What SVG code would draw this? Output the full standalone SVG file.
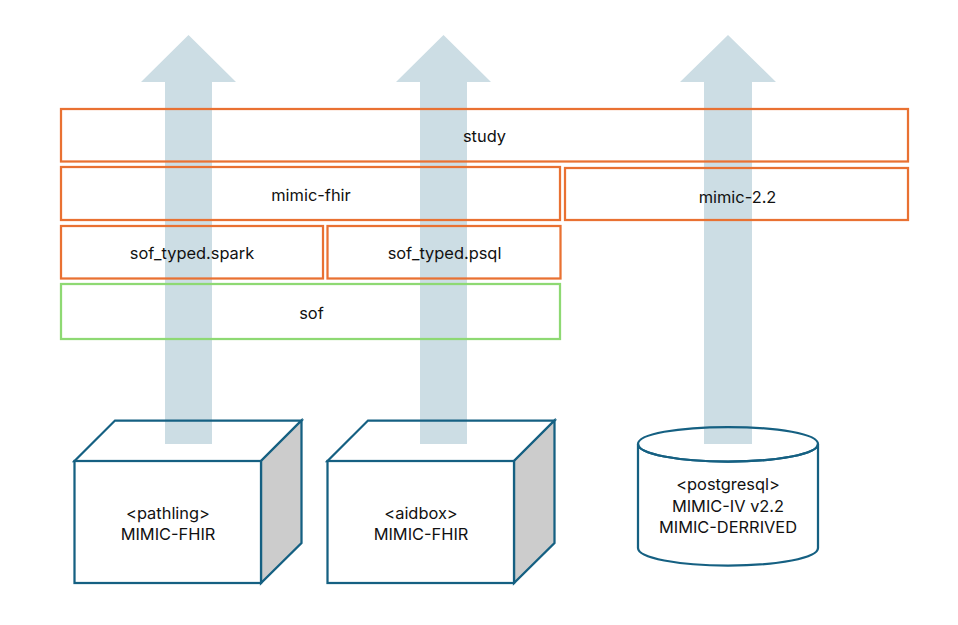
<svg xmlns="http://www.w3.org/2000/svg" width="958" height="625" viewBox="0 0 958 625">
<style>
text{font-family:"Inter","Liberation Sans",sans-serif;font-size:16.400px;fill:#111;text-anchor:middle}
.arrow{fill:#ccdde4}
.o{fill:none;stroke:#e97132;stroke-width:2.250}
.g{fill:none;stroke:#8ed973;stroke-width:2.250}
.b{fill:#fff;stroke:#156082;stroke-width:2.250;stroke-linejoin:miter}
.n{fill:none;stroke:#156082;stroke-width:2.250}
.s{fill:#cccccc;stroke:#156082;stroke-width:2.250}
</style>
<rect width="958" height="625" fill="#fff"/>
<g id="connectors">
<polygon class="arrow" points="165,444 165,82 141,82 188.500,35 236,82 212,82 212,444"/>
<polygon class="arrow" points="420,444 420,82 396,82 443.500,35 491,82 467,82 467,444"/>
<polygon class="arrow" points="704,444 704,82 680,82 728,35 776,82 752,82 752,444"/>
</g>
<g id="study"><rect class="o" x="61" y="109" width="847" height="52.500"/><text x="484.500" y="142">study</text></g>
<g id="mimic-fhir"><rect class="o" x="61" y="167" width="499" height="53"/><text x="311" y="201">mimic-fhir</text></g>
<g id="mimic-2.2"><rect class="o" x="565" y="168" width="343" height="52"/><text x="737.500" y="203">mimic-2.2</text></g>
<g id="sof_typed.spark"><rect class="o" x="61" y="226" width="262" height="52.500"/><text x="192" y="259">sof_typed.spark</text></g>
<g id="sof_typed.psql"><rect class="o" x="327.500" y="226" width="233" height="52.500"/><text x="444.500" y="259">sof_typed.psql</text></g>
<g id="sof"><rect class="g" x="61" y="284" width="499" height="55"/><text x="311.500" y="319">sof</text></g>
<g id="pathling">
<polygon class="n" points="74.500,461 115,420.500 301.500,420.500 261,461"/>
<polygon class="s" points="261,461 301.500,420.500 301.500,543 261,583"/>
<rect class="b" x="74.500" y="461" width="186.500" height="122"/>
<text x="168" y="519">&lt;pathling&gt;</text><text x="168" y="540">MIMIC-FHIR</text>
</g>
<g id="aidbox">
<polygon class="n" points="327.500,461 368,420.500 554.500,420.500 514,461"/>
<polygon class="s" points="514,461 554.500,420.500 554.500,543 514,583"/>
<rect class="b" x="327.500" y="461" width="186.500" height="122"/>
<text x="421" y="519">&lt;aidbox&gt;</text><text x="421" y="540">MIMIC-FHIR</text>
</g>
<g id="postgresql">
<path class="b" d="M638,444 V548 C638,558 678,565.500 728,565.500 S818,558 818,548 V444 C818,454 778,461.500 728,461.500 S638,454 638,444 Z"/>
<path class="n" d="M638,444 C638,434 678,427 728,427 S818,434 818,444 C818,454 778,461.500 728,461.500 S638,454 638,444 Z"/>
<text x="728" y="490">&lt;postgresql&gt;</text><text x="728" y="512">MIMIC-IV v2.2</text><text x="728" y="533">MIMIC-DERRIVED</text>
</g>
</svg>
